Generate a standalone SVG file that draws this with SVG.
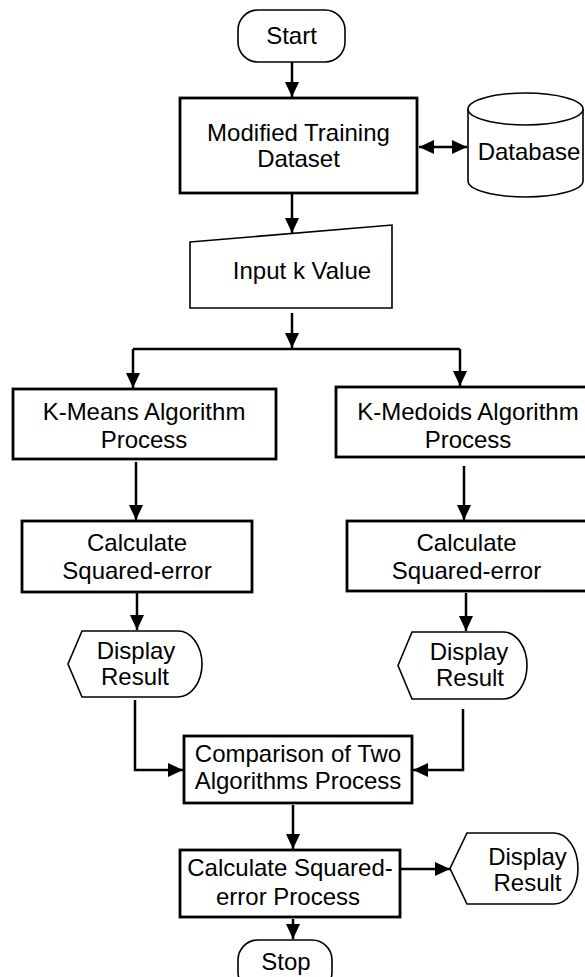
<svg xmlns="http://www.w3.org/2000/svg" width="585" height="977" viewBox="0 0 585 977">
<style>
.t{font-family:"Liberation Sans",Arial,sans-serif;font-size:24px;fill:#000;text-anchor:middle}
.thick{fill:#fff;stroke:#000;stroke-width:2.8}
.thin{fill:#fff;stroke:#000;stroke-width:1.6}
.c{fill:none;stroke:#000;stroke-width:2.5}
</style>
<defs>
<marker id="ah" markerUnits="userSpaceOnUse" markerWidth="16" markerHeight="14" refX="15" refY="7" orient="auto">
<path d="M0,0 L15,7 L0,14 Z" fill="#000"/>
</marker>
<marker id="ahs" markerUnits="userSpaceOnUse" markerWidth="16" markerHeight="14" refX="15" refY="7" orient="auto-start-reverse">
<path d="M0,0 L15,7 L0,14 Z" fill="#000"/>
</marker>
</defs>
<rect width="585" height="977" fill="#fff"/>
<g id="connectors">
<path class="c" d="M292,62 V97" marker-end="url(#ah)"/>
<path class="c" d="M419,147 H467" marker-start="url(#ahs)" marker-end="url(#ahs)"/>
<path class="c" d="M292,194 V233" marker-end="url(#ah)"/>
<path class="c" d="M292,313 V348" marker-end="url(#ah)"/>
<path class="c" d="M133,349 H460"/>
<path class="c" d="M133,349 V388" marker-end="url(#ah)"/>
<path class="c" d="M460,349 V386" marker-end="url(#ah)"/>
<path class="c" d="M136,462 V520" marker-end="url(#ah)"/>
<path class="c" d="M464,466 V520" marker-end="url(#ah)"/>
<path class="c" d="M137,593 V630" marker-end="url(#ah)"/>
<path class="c" d="M466,593 V631" marker-end="url(#ah)"/>
<path class="c" d="M135,700 V770 H183" marker-end="url(#ah)"/>
<path class="c" d="M463,709 V770 H413" marker-end="url(#ah)"/>
<path class="c" d="M293,805 V849" marker-end="url(#ah)"/>
<path class="c" d="M401,869 H450" marker-end="url(#ah)"/>
<path class="c" d="M293,919 V939" marker-end="url(#ah)"/>
</g>
<g id="start">
<rect class="thin" x="238" y="10" width="107" height="52" rx="20"/>
<text class="t" x="291.5" y="44">Start</text>
</g>
<g id="modified-training-dataset">
<rect class="thick" x="180" y="98" width="237" height="95"/>
<text class="t" x="298.5" y="141">Modified Training</text>
<text class="t" x="298.5" y="167">Dataset</text>
</g>
<g id="database">
<path class="thin" d="M468,109 V181 A57.5,16 0 0 0 583,181 V109"/>
<ellipse class="thin" cx="525.5" cy="109" rx="57.5" ry="16"/>
<text class="t" x="529" y="160">Database</text>
</g>
<g id="input-k">
<path class="thin" d="M190,242 L392,225 V308 H190 Z"/>
<text class="t" x="302" y="279">Input k Value</text>
</g>
<g id="kmeans">
<rect class="thick" x="13" y="389" width="263" height="70"/>
<text class="t" x="144" y="420">K-Means Algorithm</text>
<text class="t" x="144" y="448">Process</text>
</g>
<g id="kmedoids">
<rect class="thick" x="336" y="387" width="264" height="70"/>
<text class="t" x="468" y="420">K-Medoids Algorithm</text>
<text class="t" x="468" y="448">Process</text>
</g>
<g id="calc-left">
<rect class="thick" x="22" y="521" width="230" height="71"/>
<text class="t" x="137" y="551">Calculate</text>
<text class="t" x="137" y="579">Squared-error</text>
</g>
<g id="calc-right">
<rect class="thick" x="347" y="521" width="243" height="70"/>
<text class="t" x="466.5" y="551">Calculate</text>
<text class="t" x="466.5" y="579">Squared-error</text>
</g>
<g id="display-left">
<path class="thin" d="M82,631 H178 A24,33 0 0 1 178,697 H82 L68,664 Z"/>
<text class="t" x="136" y="659">Display</text>
<text class="t" x="135" y="685">Result</text>
</g>
<g id="display-right">
<path class="thin" d="M412,632 H503 A24,33.5 0 0 1 503,699 H412 L398,665.5 Z"/>
<text class="t" x="469" y="660">Display</text>
<text class="t" x="470" y="686">Result</text>
</g>
<g id="comparison">
<rect class="thick" x="184" y="736" width="228" height="67"/>
<text class="t" x="298" y="762">Comparison of Two</text>
<text class="t" x="298" y="789">Algorithms Process</text>
</g>
<g id="calc-process">
<rect class="thick" x="180" y="850" width="220" height="67"/>
<text class="t" x="290" y="876">Calculate Squared-</text>
<text class="t" x="288" y="905">error Process</text>
</g>
<g id="display-final">
<path class="thin" d="M467,833 H554 A24,35.5 0 0 1 554,904 H467 L450,868.5 Z"/>
<text class="t" x="527.5" y="865">Display</text>
<text class="t" x="527.5" y="891">Result</text>
</g>
<g id="stop">
<rect class="thin" x="238" y="940" width="94" height="52" rx="20"/>
<text class="t" x="286" y="970">Stop</text>
</g>
</svg>
